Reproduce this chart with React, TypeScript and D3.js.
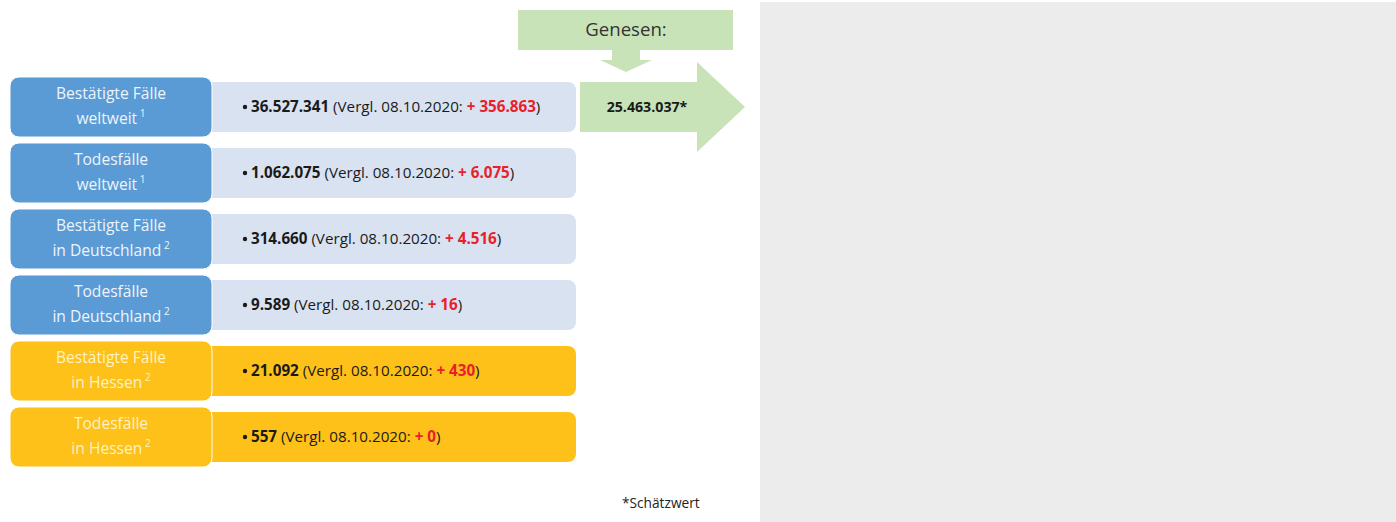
import { scaleBand } from "d3";

const labelTop = ["Bestätigte Fälle", "Todesfälle", "Bestätigte Fälle", "Todesfälle", "Bestätigte Fälle", "Todesfälle"];
const labelBottom = ["weltweit", "weltweit", "in Deutschland", "in Deutschland", "in Hessen", "in Hessen"];
const footnotes = ["1", "1", "2", "2", "2", "2"];
const totals = ["36.527.341", "1.062.075", "314.660", "9.589", "21.092", "557"];
const deltas = ["+ 356.863", "+ 6.075", "+ 4.516", "+ 16", "+ 430", "+ 0"];
const region = ["welt", "welt", "de", "de", "he", "he"];
const compareDate = "08.10.2020";
const recovered = "25.463.037*";

const palette: Record<string, { box: string; panel: string; label: string }> = {
  welt: { box: "#5b9bd5", panel: "#d9e2f1", label: "#eef4fb" },
  de: { box: "#5b9bd5", panel: "#d9e2f1", label: "#eef4fb" },
  he: { box: "#fdc11a", panel: "#fdc11a", label: "#fff1c2" },
};

export default function App() {
  const width = 1396;
  const height = 522;
  const font = "'Open Sans', Lato, sans-serif";

  const y = scaleBand<number>()
    .domain(totals.map((_, i) => i))
    .range([74, 470])
    .paddingInner(0.09)
    .paddingOuter(0.045);

  const boxX = 10;
  const boxW = 202;
  const panelX = 200;
  const panelW = 376;

  const first = y(0) ?? 0;
  const firstMid = first + y.bandwidth() / 2;

  return (
    <svg
      width={width}
      height={height}
      style={{ position: "absolute", left: 0, top: 0, background: "#ffffff" }}
      fontFamily={font}
    >
      <rect x={760} y={2} width={636} height={520} fill="#ececec" />

      {totals.map((total, i) => {
        const top = y(i) ?? 0;
        const bw = y.bandwidth();
        const c = palette[region[i]];
        const mid = top + bw / 2;
        return (
          <g key={i}>
            <rect x={panelX} y={top + 5} width={panelW} height={bw - 10} rx={8} fill={c.panel} />
            <rect x={boxX} y={top} width={boxW} height={bw} rx={9} fill={c.box} stroke="#ffffff" strokeWidth={1} />
            <text x={boxX + boxW / 2} y={top + 22} textAnchor="middle" fill={c.label} fontSize={15.6}>
              {labelTop[i]}
            </text>
            <text x={boxX + boxW / 2} y={top + 47} textAnchor="middle" fill={c.label} fontSize={15.6}>
              {labelBottom[i]}
              <tspan fontSize={10} dy={-7}> {footnotes[i]}</tspan>
            </text>
            <circle cx={245} cy={mid} r={2.2} fill="#1a1a1a" />
            <text x={251} y={mid + 5} fill="#1a1a1a" fontSize={15.2}>
              <tspan fontWeight={700}>{total}</tspan>
              <tspan>{` (Vergl. ${compareDate}: `}</tspan>
              <tspan fontWeight={700} fill="#e8202a">{deltas[i]}</tspan>
              <tspan>)</tspan>
            </text>
          </g>
        );
      })}

      {/* Genesen callout */}
      <rect x={518} y={10} width={215} height={40} fill="#c8e3b8" />
      <text x={626} y={36} textAnchor="middle" fill="#333333" fontSize={18.6}>
        Genesen:
      </text>
      <path d="M612,50 L640,50 L640,60 L652,60 L626,72 L600,60 L612,60 Z" fill="#c8e3b8" />
      <path
        d={`M580,${first + 5} L697,${first + 5} L697,62 L745,${firstMid} L697,152 L697,${first + y.bandwidth() - 5} L580,${first + y.bandwidth() - 5} Z`}
        fill="#c8e3b8"
      />
      <text x={647} y={firstMid + 5} textAnchor="middle" fill="#1a1a1a" fontSize={14.2} fontWeight={700}>
        {recovered}
      </text>

      <text x={622} y={508} fill="#222222" fontSize={13.7}>
        *Schätzwert
      </text>
    </svg>
  );
}
